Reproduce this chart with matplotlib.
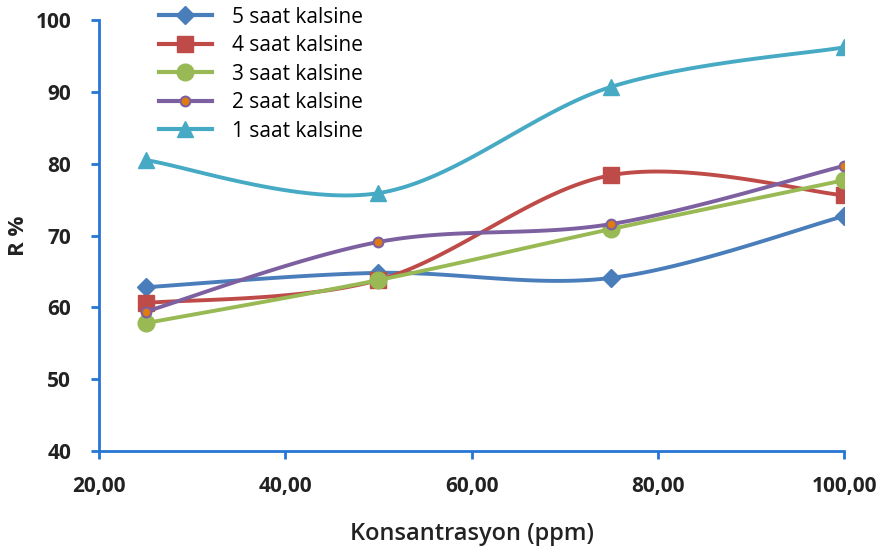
import matplotlib
matplotlib.use("Agg")
import matplotlib.pyplot as plt
import numpy as np

plt.rcParams['font.family'] = ['Open Sans', 'DejaVu Sans']

konsantrasyon = [25, 50, 75, 100]

saat5 = [62.8, 64.8, 64.1, 72.7]
saat4 = [60.6, 63.8, 78.4, 75.6]
saat3 = [57.8, 63.8, 70.9, 77.7]
saat2 = [59.4, 69.1, 71.6, 79.7]
saat1 = [80.5, 75.9, 90.7, 96.2]

labels = ["5 saat kalsine", "4 saat kalsine", "3 saat kalsine",
          "2 saat kalsine", "1 saat kalsine"]
colors = ["#4A7EBB", "#BE4B48", "#98B954", "#7D60A0", "#46AAC5"]
markers = ["D", "s", "o", "o", "^"]
msizes = [9, 12, 12, 7, 12]


def smooth(x, y, n=40):
    # Catmull-Rom style bezier through the points (like a smoothed line chart)
    x = np.asarray(x, float)
    y = np.asarray(y, float)
    px = np.concatenate([[x[0]], x, [x[-1]]])
    py = np.concatenate([[y[0]], y, [y[-1]]])
    xs, ys = [], []
    t = np.linspace(0, 1, n)
    for i in range(1, len(px) - 2):
        p0 = np.array([px[i], py[i]])
        p3 = np.array([px[i + 1], py[i + 1]])
        p1 = p0 + (np.array([px[i + 1], py[i + 1]]) - np.array([px[i - 1], py[i - 1]])) / 6
        p2 = p3 - (np.array([px[i + 2], py[i + 2]]) - np.array([px[i], py[i]])) / 6
        b = ((1 - t) ** 3)[:, None] * p0 + (3 * (1 - t) ** 2 * t)[:, None] * p1 \
            + (3 * (1 - t) * t ** 2)[:, None] * p2 + (t ** 3)[:, None] * p3
        xs.extend(b[:, 0])
        ys.extend(b[:, 1])
    return xs, ys


fig = plt.figure(figsize=(8.88, 5.53), dpi=100)
ax = fig.add_axes([0.1115, 0.1844, 0.839, 0.7794])

for data, lab, c, m, ms in zip([saat5, saat4, saat3, saat2, saat1],
                               labels, colors, markers, msizes):
    sx, sy = smooth(konsantrasyon, data)
    ax.plot(sx, sy, color=c, lw=2.8, solid_capstyle='round')
    if lab.startswith("2"):
        ax.plot(konsantrasyon, data, ls='none', marker=m, ms=ms,
                mfc="#E07B10", mec=c, mew=1.5)
    else:
        ax.plot(konsantrasyon, data, ls='none', marker=m, ms=ms,
                mfc=c, mec=c)

# legend handles
handles = []
for lab, c, m, ms in zip(labels, colors, markers, msizes):
    if lab.startswith("2"):
        h, = ax.plot([], [], color=c, lw=3, marker=m, ms=ms,
                     mfc="#E07B10", mec=c, mew=1.5)
    else:
        h, = ax.plot([], [], color=c, lw=3, marker=m, ms=ms, mfc=c, mec=c)
    handles.append(h)
leg = fig.legend(handles, labels, loc='upper left',
                 bbox_to_anchor=(140 / 888, 1 + 12 / 553),
                 frameon=False, fontsize=15, handlelength=2.55,
                 labelspacing=0.36, handletextpad=0.95)

ax.set_xlim(20, 100)
ax.set_ylim(40, 100)
ax.set_xticks([20, 40, 60, 80, 100])
ax.set_xticklabels(["20,00", "40,00", "60,00", "80,00", "100,00"])
ax.set_yticks([40, 50, 60, 70, 80, 90, 100])

for s in ['top', 'right']:
    ax.spines[s].set_visible(False)
for s in ['left', 'bottom']:
    ax.spines[s].set_color('#2676D4')
    ax.spines[s].set_linewidth(2)
ax.tick_params(colors='#2676D4', width=2, length=6, direction='out',
               labelcolor='#222222', labelsize=15)
for t in ax.get_xticklabels() + ax.get_yticklabels():
    t.set_fontweight('bold')
ax.tick_params(axis='x', pad=12)
ax.tick_params(axis='y', pad=14)

ax.set_xlabel("Konsantrasyon (ppm)", fontsize=17, fontweight='semibold',
              color='#222222', labelpad=18)
ax.set_ylabel("R %", fontsize=16, fontweight='bold', color='#222222',
              labelpad=5)

fig.savefig("out.png", dpi=100)
